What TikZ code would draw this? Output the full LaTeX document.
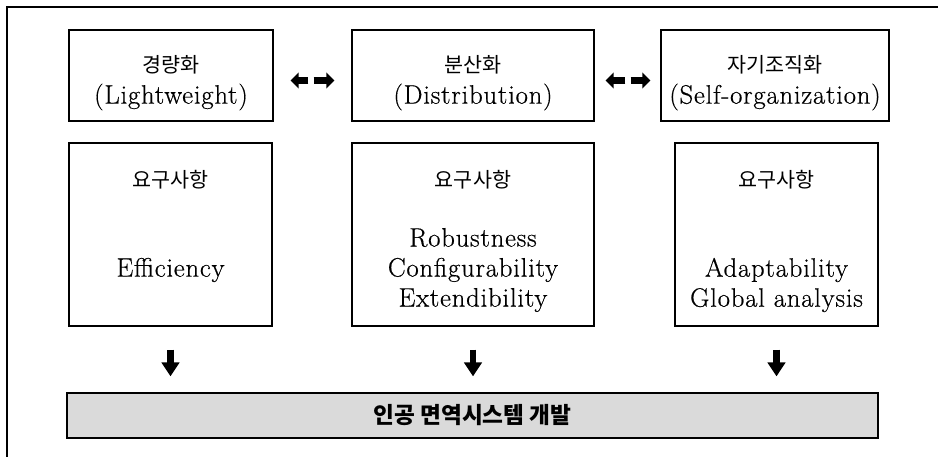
\documentclass[tikz,border=0pt]{standalone}
\usepackage{fontspec}
\newfontfamily\kor{Noto Sans CJK KR}
\newfontfamily\rmwide{Latin Modern Roman}[LetterSpace=3, FakeBold=0.5]
\usetikzlibrary{arrows.meta, positioning, calc}
\definecolor{cBar}{RGB}{218,218,218}

\begin{document}
\begin{tikzpicture}[x=0.75pt, y=-0.75pt,
    box/.style={draw, line width=0.9pt, inner sep=0pt},
    en/.style={font=\rmwide\fontsize{20}{22.5}\selectfont, align=center},
    ko/.style={font=\kor\fontsize{15.5}{18}\selectfont},
    blk/.style={line width=5pt, -{Triangle[length=10.5pt, width=13pt]}},
    blkh/.style={line width=5.5pt, -{Triangle[length=6pt, width=11.7pt]}}]
  \useasboundingbox (0,0) rectangle (938,457);
  \draw[line width=0.8pt] (938,7) -- (7,7) -- (7,457);
  % concept boxes
  \node[box, minimum width=153pt, minimum height=68.25pt] (lw) at (171,75.5) {};
  \node[box, minimum width=181.5pt, minimum height=68.25pt] (dist) at (473,75.5) {};
  \node[box, minimum width=171pt, minimum height=68.25pt] (self) at (775,75.5) {};
  \node[ko] (lwKo) at (171,65) {경량화};
  \node[en] (lwEn) at (171,97) {(Lightweight)};
  \node[ko] (distKo) at (473,65) {분산화};
  \node[en] (distEn) at (473,97) {(Distribution)};
  \node[ko] (selfKo) at (775,65) {자기조직화};
  \node[en] (selfEn) at (775,97) {(Self-organization)};
  % requirement boxes
  \node[box, minimum width=152.25pt, minimum height=137.25pt] (reqLw) at (170.5,234.5) {};
  \node[box, minimum width=181.5pt, minimum height=137.25pt] (reqDist) at (473,234.5) {};
  \node[box, minimum width=152.25pt, minimum height=137.25pt] (reqSelf) at (776.5,234.5) {};
  \foreach \n/\x in {lw/170.5, dist/473, self/776.5} {
    \node[ko] (req\n) at (\x,180) {요구사항};
  }
  \node[en] (itemsLw) at (170.5,270) {Efficiency};
  \node[en] (itemsDist) at (473,270) {Robustness\\Configurability\\Extendibility};
  \node[en] (itemsSelf) at (776.5,285) {Adaptability\\Global analysis};
  % development bar
  \node[box, fill=cBar, minimum width=608.25pt, minimum height=33.75pt,
    font=\kor\bfseries\fontsize{17}{18}\selectfont] (dev) at (472.5,415.5) {인공 면역시스템 개발};
  % arrows
  \draw[blkh, shorten <=32.25pt, shorten >=12.75pt] ([yshift=-3.75pt]dist.west) -- ([yshift=-3.75pt]lw.east);
  \draw[blkh, shorten <=30pt, shorten >=12.75pt] ([yshift=-3.75pt]lw.east) -- ([yshift=-3.75pt]dist.west);
  \draw[blkh, shorten <=26.25pt, shorten >=8.25pt] ([yshift=-3.75pt]self.west) -- ([yshift=-3.75pt]dist.east);
  \draw[blkh, shorten <=27pt, shorten >=7.5pt] ([yshift=-3.75pt]dist.east) -- ([yshift=-3.75pt]self.west);
  \foreach \n in {Lw, Dist, Self} {
    \draw[blk, shorten <=17.25pt, shorten >=12pt] (req\n.south) -- (req\n.south |- dev.north);
  }
\end{tikzpicture}
\end{document}
